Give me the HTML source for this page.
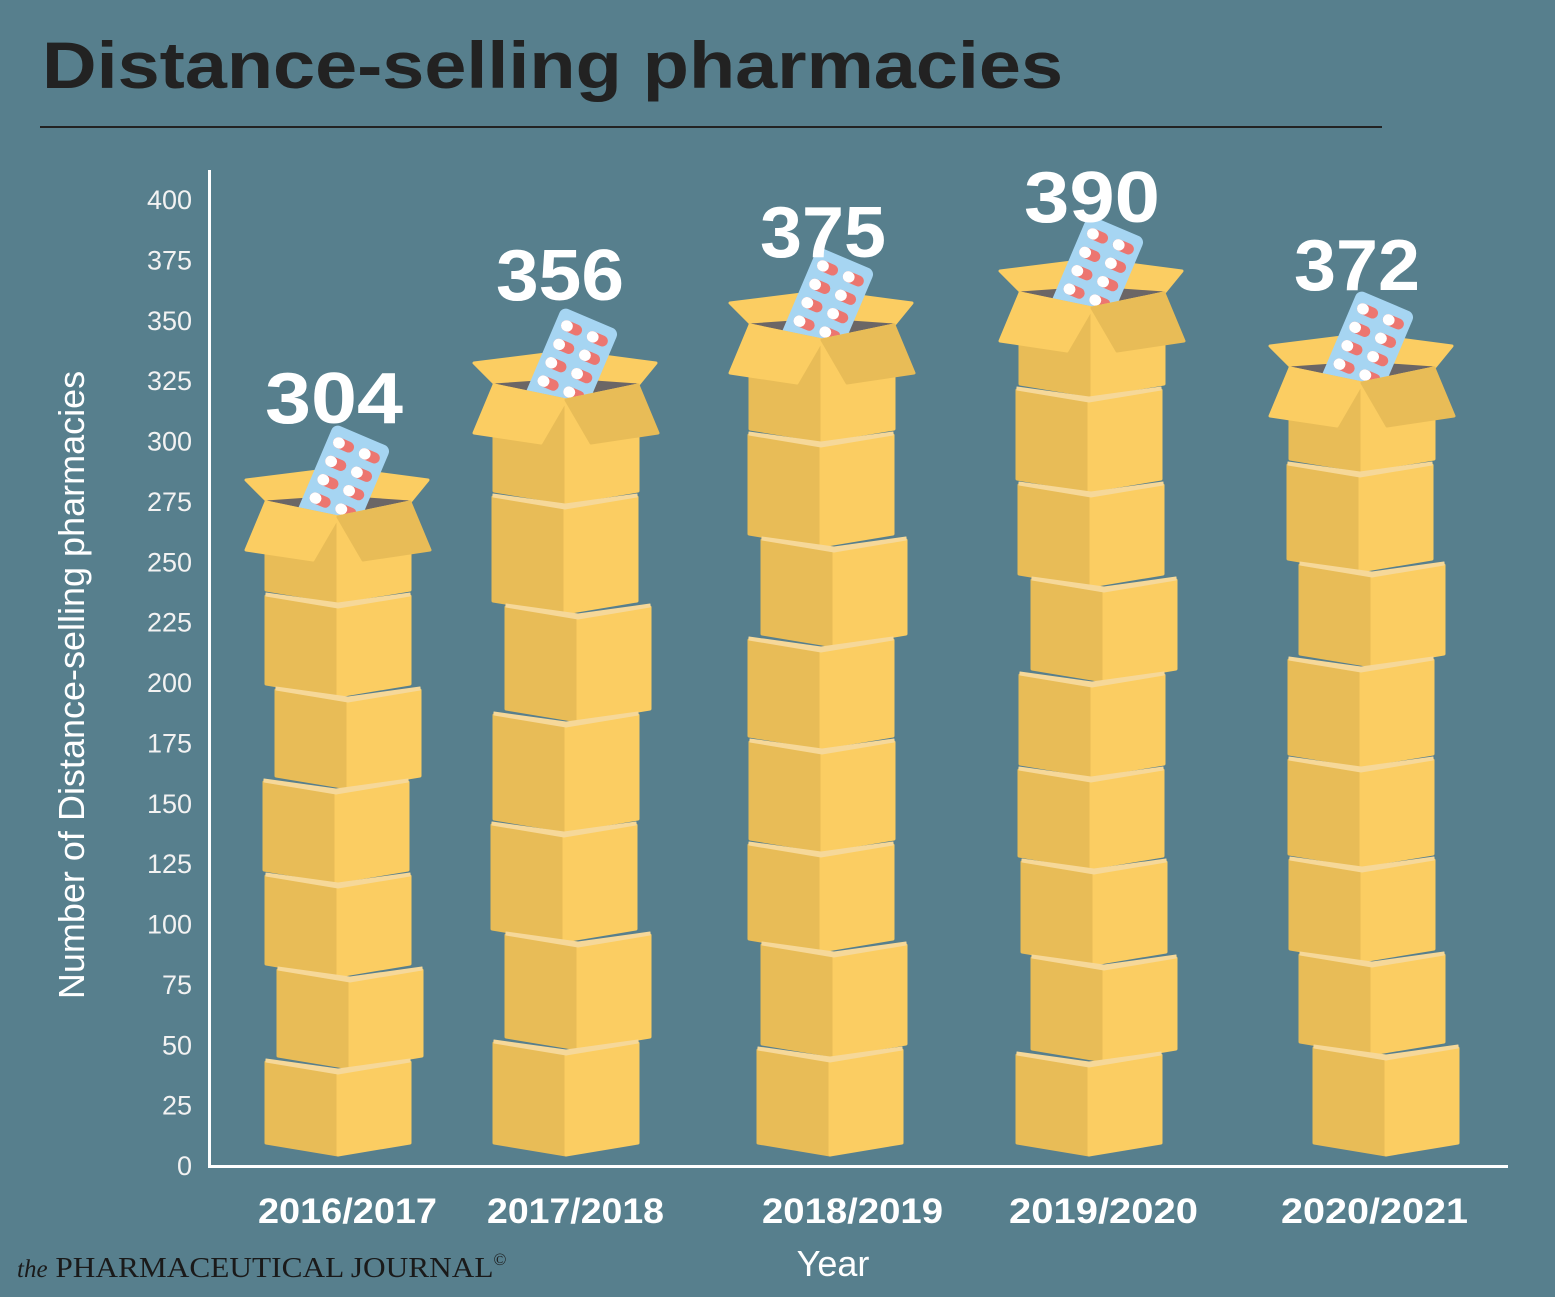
<!DOCTYPE html>
<html><head><meta charset="utf-8"><style>
html,body{margin:0;padding:0;background:#577f8d;}
svg{display:block}
</style></head><body>
<svg id="s" width="1555" height="1297" viewBox="0 0 1555 1297" xmlns="http://www.w3.org/2000/svg">
<rect width="1555" height="1297" fill="#577f8d"/>
<text x="42" y="88" font-family="Liberation Sans, sans-serif" font-weight="bold" font-size="66" fill="#222" textLength="1021" lengthAdjust="spacingAndGlyphs">Distance-selling pharmacies</text>
<rect x="40" y="126" width="1342" height="2" fill="#222"/>
<g id="g"></g>
<rect x="208" y="170" width="3" height="998" fill="#fff"/>
<rect x="208" y="1165" width="1300" height="3" fill="#fff"/>
<g font-family="Liberation Sans, sans-serif" font-size="27" fill="#f2f2f2" text-anchor="end" id="ticks"></g>
<text transform="translate(84,685) rotate(-90)" font-family="Liberation Sans, sans-serif" font-size="36" fill="#fff" text-anchor="middle">Number of Distance-selling pharmacies</text>
<g font-family="Liberation Sans, sans-serif" font-weight="bold" font-size="35" fill="#fff">
<text x="258" y="1223" textLength="179" lengthAdjust="spacingAndGlyphs">2016/2017</text>
<text x="487" y="1223" textLength="177" lengthAdjust="spacingAndGlyphs">2017/2018</text>
<text x="762" y="1223" textLength="181" lengthAdjust="spacingAndGlyphs">2018/2019</text>
<text x="1009" y="1223" textLength="189" lengthAdjust="spacingAndGlyphs">2019/2020</text>
<text x="1281" y="1223" textLength="187" lengthAdjust="spacingAndGlyphs">2020/2021</text>
</g>
<text x="833" y="1276" font-family="Liberation Sans, sans-serif" font-size="36" fill="#fff" text-anchor="middle">Year</text>
<text x="17" y="1277" font-family="Liberation Serif, serif" font-size="29" fill="#1a1a1a"><tspan font-style="italic" font-size="25">the</tspan><tspan textLength="446" lengthAdjust="spacingAndGlyphs"> PHARMACEUTICAL JOURNAL</tspan><tspan font-size="17" dy="-12">©</tspan></text>
<g font-family="Liberation Sans, sans-serif" font-weight="bold" font-size="72" fill="#fff">
<text x="265" y="423" textLength="138" lengthAdjust="spacingAndGlyphs">304</text>
<text x="496" y="300" textLength="128" lengthAdjust="spacingAndGlyphs">356</text>
<text x="760" y="257" textLength="126" lengthAdjust="spacingAndGlyphs">375</text>
<text x="1024" y="222" textLength="136" lengthAdjust="spacingAndGlyphs">390</text>
<text x="1294" y="290" textLength="126" lengthAdjust="spacingAndGlyphs">372</text>
</g>
</svg>
<script>
var NS="http://www.w3.org/2000/svg";
var g=document.getElementById('g'),tk=document.getElementById('ticks');
for(var v=0;v<=400;v+=25){var y=1165-v*2.415;var t=document.createElementNS(NS,'text');t.setAttribute('x',192);t.setAttribute('y',y+10);t.textContent=v;tk.appendChild(t);}
function poly(pts,fill,sw){var p=document.createElementNS(NS,'polygon');p.setAttribute('points',pts.map(function(a){return a[0]+','+a[1]}).join(' '));p.setAttribute('fill',fill);p.setAttribute('stroke',fill);p.setAttribute('stroke-linejoin','round');p.setAttribute('stroke-width',sw==null?'3':sw);g.appendChild(p);return p;}
var DK='#e8bc57',LT='#fbcd62',TOP='#f6d899';
function box(cx,top,h){
 var w=72;
 poly([[cx-w,top],[cx,top+12],[cx,top+h+12],[cx-w,top+h]],DK);
 poly([[cx,top+12],[cx+w,top],[cx+w,top+h],[cx,top+h+12]],LT);
 poly([[cx-w,top-3],[cx,top+7],[cx+w,top-3],[cx+w,top],[cx,top+12],[cx-w,top]],TOP,'1');
}
function openbox(cx,F,bot){
 poly([[cx-70,F-15],[cx-92,F-37],[cx-20,F-46],[cx,F-20]],LT);
 poly([[cx,F-20],[cx+22,F-46],[cx+90,F-37],[cx+72,F-15]],LT);
 poly([[cx-72,F-15],[cx,F-20],[cx+72,F-15],[cx,F]],'#6b6666');
 var pk=document.createElementNS(NS,'g');pk.setAttribute('transform','translate('+(cx+2)+','+(F-28)+') rotate(23)');
 var r=document.createElementNS(NS,'rect');r.setAttribute('x',-31);r.setAttribute('y',-58);r.setAttribute('width',62);r.setAttribute('height',116);r.setAttribute('rx',7);r.setAttribute('fill','#a6d5f2');pk.appendChild(r);
 for(var i=0;i<5;i++)for(var j=0;j<2;j++){var px=-14+j*28,py=-42+i*20;
  var a=document.createElementNS(NS,'rect');a.setAttribute('x',px-11);a.setAttribute('y',py-5.5);a.setAttribute('width',22);a.setAttribute('height',11);a.setAttribute('rx',5.5);a.setAttribute('fill','#ec7670');pk.appendChild(a);
  var b=document.createElementNS(NS,'rect');b.setAttribute('x',px-11);b.setAttribute('y',py-5.5);b.setAttribute('width',12);b.setAttribute('height',11);b.setAttribute('rx',5.5);b.setAttribute('fill','#fff');pk.appendChild(b);}
 g.appendChild(pk);
 poly([[cx-72,F-15],[cx,F],[cx,bot+12],[cx-72,bot]],DK);
 poly([[cx,F],[cx+72,F-15],[cx+72,bot],[cx,bot+12]],LT);
 poly([[cx-72,F-15],[cx,F],[cx-25,F+43],[cx-92,F+33]],LT);
 poly([[cx,F],[cx+72,F-15],[cx+92,F+33],[cx+25,F+43]],DK);
}
var cols=[
 {cx:338,F:517,tops:[1062,970,876,782,690,596],off:[0,12,0,-2,10,0]},
 {cx:566,F:400,tops:[1043,935,825,715,607,497],off:[0,12,-2,0,12,-1]},
 {cx:822,F:340,tops:[1050,945,845,742,640,540,435],off:[8,12,-1,0,-1,12,-1]},
 {cx:1092,F:308,tops:[1055,958,862,770,675,580,485,390],off:[-3,12,2,-1,0,12,-1,-3]},
 {cx:1362,F:383,tops:[1048,955,860,760,660,565,465],off:[24,10,0,-1,-1,10,-2]}
];
cols.forEach(function(c){
 var n=c.tops.length;
 openbox(c.cx,c.F,c.tops[n-1]-6);
 for(var i=n-1;i>=0;i--){
  var top=c.tops[i];var bottom=(i==0)?1155:c.tops[i-1]+6;
  box(c.cx+c.off[i],top,bottom-top-12);
 }
});
</script>
</body></html>
